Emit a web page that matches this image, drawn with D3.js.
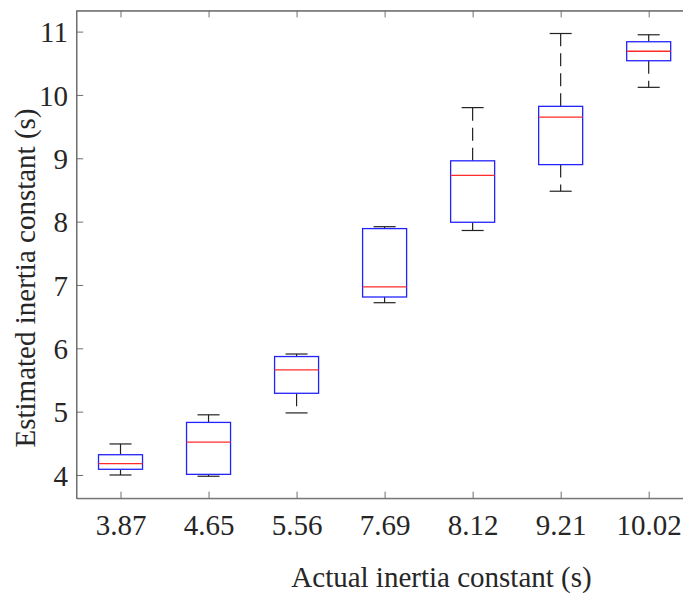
<!DOCTYPE html>
<html>
<head>
<meta charset="utf-8">
<script src="https://cdn.jsdelivr.net/npm/d3@7"></script>
<style>
  body { margin: 0; background: #fff; }
  svg { display: block; font-family: "Liberation Serif", "Times New Roman", serif; }
</style>
</head>
<body>
<div id="chart"></div>
<script>
// actual inertia constants (categories on x)
var categories = ["3.87", "4.65", "5.56", "7.69", "8.12", "9.21", "10.02"]
// box statistics
var lowerWhisker = [4.00, 3.98, 4.98, 6.72, 7.86, 8.48, 10.12]
var q1Values     = [4.09, 4.01, 5.29, 6.81, 7.99, 8.90, 10.54]
var medians      = [4.18, 4.52, 5.66, 6.97, 8.73, 9.65, 10.69]
var q3Values     = [4.32, 4.83, 5.87, 7.89, 8.96, 9.82, 10.84]
var upperWhisker = [4.49, 4.95, 5.91, 7.92, 9.80, 10.97, 10.95]
var yTicks = [4, 5, 6, 7, 8, 9, 10, 11]

var width = 683, height = 593
var plot = { left: 76.5, right: 692.7, top: 10.7, bottom: 498.3 }

var boxes = categories.map(function(c, i){
    return { cat: c, lo: lowerWhisker[i], q1: q1Values[i], med: medians[i], q3: q3Values[i], hi: upperWhisker[i] }
})

var svg = d3.select("#chart").append("svg")
    .attr("width", width)
    .attr("height", height)

var x = d3.scalePoint().domain(categories).range([plot.left, plot.right]).padding(0.5)
var y = d3.scaleLinear().domain([3.632, 11.33]).range([plot.bottom, plot.top])

var boxW = x.step() * 0.5
var capW = boxW * 0.5
var tick = 6.7
var axisColor = "#6f6f6f"
var textColor = "#262626"

// frame
svg.append("rect")
    .attr("x", plot.left).attr("y", plot.top)
    .attr("width", plot.right - plot.left).attr("height", plot.bottom - plot.top)
    .attr("fill", "none").attr("stroke", axisColor).attr("stroke-width", 1)

// axes, ticks pointing inward like matlab
var xAxis = svg.append("g")
    .attr("transform", "translate(0," + plot.bottom + ")")
    .call(d3.axisBottom(x).tickSizeInner(-tick).tickSizeOuter(0))
var xTop = svg.append("g")
    .attr("transform", "translate(0," + plot.top + ")")
    .call(d3.axisTop(x).tickSizeInner(-tick).tickSizeOuter(0).tickFormat(""))
var yAxis = svg.append("g")
    .attr("transform", "translate(" + plot.left + ",0)")
    .call(d3.axisLeft(y).tickValues(yTicks).tickSizeInner(-tick).tickSizeOuter(0))
var yRight = svg.append("g")
    .attr("transform", "translate(" + plot.right + ",0)")
    .call(d3.axisRight(y).tickValues(yTicks).tickSizeInner(-tick).tickSizeOuter(0).tickFormat(""))

svg.selectAll(".domain").attr("stroke", axisColor)
svg.selectAll(".tick line").attr("stroke", axisColor)

xAxis.selectAll("text")
    .attr("y", 36.7).attr("dy", 0)
    .attr("font-size", 29).attr("font-family", "Liberation Serif")
    .attr("fill", textColor)
yAxis.selectAll("text")
    .attr("x", -8.5).attr("dy", "0.35em")
    .attr("font-size", 29).attr("font-family", "Liberation Serif")
    .attr("fill", textColor)

// boxes
var g = svg.append("g")
var b = g.selectAll(".box").data(boxes).enter().append("g").attr("class", "box")

// dashed whiskers
b.append("line")
    .attr("x1", function(d){ return x(d.cat) }).attr("x2", function(d){ return x(d.cat) })
    .attr("y1", function(d){ return y(d.q3) }).attr("y2", function(d){ return y(d.hi) })
    .attr("stroke", "#222").attr("stroke-width", 1.2).attr("stroke-dasharray", "13,7")
b.append("line")
    .attr("x1", function(d){ return x(d.cat) }).attr("x2", function(d){ return x(d.cat) })
    .attr("y1", function(d){ return y(d.q1) }).attr("y2", function(d){ return y(d.lo) })
    .attr("stroke", "#222").attr("stroke-width", 1.2).attr("stroke-dasharray", "13,7")

// caps
b.selectAll(".cap").data(function(d){ return [{ c: d.cat, v: d.hi }, { c: d.cat, v: d.lo }] })
    .enter().append("line").attr("class", "cap")
    .attr("x1", function(d){ return x(d.c) - capW / 2 }).attr("x2", function(d){ return x(d.c) + capW / 2 })
    .attr("y1", function(d){ return y(d.v) }).attr("y2", function(d){ return y(d.v) })
    .attr("stroke", "#222").attr("stroke-width", 1.2)

b.append("rect")
    .attr("x", function(d){ return x(d.cat) - boxW / 2 })
    .attr("y", function(d){ return y(d.q3) })
    .attr("width", boxW)
    .attr("height", function(d){ return y(d.q1) - y(d.q3) })
    .attr("fill", "#fff").attr("stroke", "#2222ff").attr("stroke-width", 1.3)

b.append("line")
    .attr("x1", function(d){ return x(d.cat) - boxW / 2 }).attr("x2", function(d){ return x(d.cat) + boxW / 2 })
    .attr("y1", function(d){ return y(d.med) }).attr("y2", function(d){ return y(d.med) })
    .attr("stroke", "#ff2a2a").attr("stroke-width", 1.3)

// axis titles
svg.append("text")
    .attr("x", 441.5).attr("y", 587)
    .attr("text-anchor", "middle")
    .attr("font-size", 29).attr("fill", textColor)
    .text("Actual inertia constant (s)")
svg.append("text")
    .attr("transform", "translate(35,278) rotate(-90)")
    .attr("text-anchor", "middle")
    .attr("font-size", 29).attr("fill", textColor)
    .text("Estimated inertia constant (s)")
</script>
</body>
</html>
